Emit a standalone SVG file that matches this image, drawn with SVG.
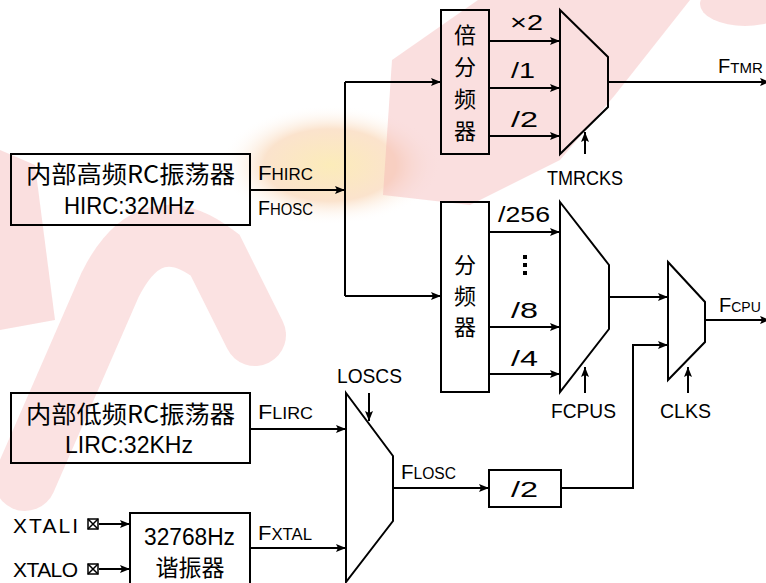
<svg xmlns="http://www.w3.org/2000/svg" width="766" height="583" viewBox="0 0 766 583">
<defs>
<marker id="ah" viewBox="0 0 10 8" markerWidth="10" markerHeight="8" refX="10" refY="4" orient="auto" markerUnits="userSpaceOnUse">
<path d="M0,0 L10,4 L0,8 L2,4 z" fill="#000"/>
</marker>
<radialGradient id="wy" cx="0.5" cy="0.5" r="0.5">
<stop offset="0" stop-color="#fbe7a8"/>
<stop offset="0.6" stop-color="#fadcc0"/>
<stop offset="1" stop-color="#fff" stop-opacity="0"/>
</radialGradient>
<style>
.ln{stroke:#000;stroke-width:2;fill:none}
.ar{marker-end:url(#ah)}
.bx{fill:none;stroke:#000;stroke-width:2}
.mx{fill:none;stroke:#000;stroke-width:2;stroke-linejoin:miter}
.t{font-family:'Liberation Sans',Arial,sans-serif;fill:#000}
.c{font-family:'Noto Sans CJK SC','Noto Sans CJK JP',sans-serif;fill:#000}
.v{writing-mode:vertical-rl}
.wm{fill:#f4b3b3;opacity:0.42}
</style>
</defs>
<rect width="766" height="583" fill="#fff"/>
<g id="watermark">
<ellipse cx="330" cy="165" rx="110" ry="60" fill="url(#wy)" opacity="0.8"/>
<polygon class="wm" points="392,60 478,0 690,0 615,95 560,160 470,205 383,195"/>
<ellipse class="wm" cx="745" cy="4" rx="45" ry="22"/>
<path d="M25,480 L110,285 Q150,205 215,255 L255,335" fill="none" stroke="#f4b3b3" stroke-width="62" stroke-linecap="round" opacity="0.38"/>
<polygon class="wm" points="0,150 35,165 55,320 0,330"/>
</g>
<g id="connectors">
<path class="ln ar" d="M250,190 H345"/>
<path class="ln" d="M345,82 V296"/>
<path class="ln ar" d="M345,82 H441"/>
<path class="ln ar" d="M345,296 H441"/>
<path class="ln ar" d="M489,41 H560"/>
<path class="ln ar" d="M489,88 H560"/>
<path class="ln ar" d="M489,136 H560"/>
<path class="ln ar" d="M608,82 H770"/>
<path class="ln ar" d="M585,154 V132"/>
<path class="ln ar" d="M489,232 H560"/>
<path class="ln ar" d="M489,327 H560"/>
<path class="ln ar" d="M489,374 H560"/>
<path class="ln ar" d="M609,297 H668"/>
<path class="ln ar" d="M585,393 V367"/>
<path class="ln ar" d="M688,393 V367"/>
<path class="ln ar" d="M705,320 H770"/>
<path class="ln ar" d="M250,429 H346"/>
<path class="ln ar" d="M250,548 H346"/>
<path class="ln ar" d="M369,393 V421"/>
<path class="ln ar" d="M393,488 H489"/>
<path class="ln ar" d="M561,488 H633 V345 H668"/>
<path class="ln ar" d="M99,524 H130"/>
<path class="ln ar" d="M99,569 H130"/>
</g>
<g id="hirc">
<rect class="bx" x="11" y="154" width="239" height="71"/>
<text class="c" x="26" y="183" font-size="24" textLength="209" lengthAdjust="spacingAndGlyphs">内部高频RC振荡器</text>
<text class="t" x="64" y="214" font-size="24" textLength="131" lengthAdjust="spacingAndGlyphs">HIRC:32MHz</text>
</g>
<g id="label-fhirc"><text class="t" x="258" y="180" textLength="55" lengthAdjust="spacingAndGlyphs"><tspan font-size="21">F</tspan><tspan font-size="16">HIRC</tspan></text></g>
<g id="label-fhosc"><text class="t" x="258" y="215" textLength="55" lengthAdjust="spacingAndGlyphs"><tspan font-size="21">F</tspan><tspan font-size="16">HOSC</tspan></text></g>
<g id="mul-div">
<rect class="bx" x="441" y="10" width="48" height="144"/>
<text class="c v" x="465" y="24" font-size="22" letter-spacing="10">倍分频器</text>
<text class="t" x="510" y="30" font-size="22" textLength="33" lengthAdjust="spacingAndGlyphs">×2</text>
<text class="t" x="511" y="78" font-size="22" textLength="24" lengthAdjust="spacingAndGlyphs">/1</text>
<text class="t" x="511" y="127" font-size="22" textLength="27" lengthAdjust="spacingAndGlyphs">/2</text>
</g>
<g id="mux-tmr">
<polygon class="mx" points="560,10 608,57 608,107 560,154"/>
<text class="t" x="547" y="185" font-size="21" textLength="76" lengthAdjust="spacingAndGlyphs">TMRCKS</text>
<text class="t" x="718" y="73"><tspan font-size="20">F</tspan><tspan font-size="15">TMR</tspan></text>
</g>
<g id="div">
<rect class="bx" x="441" y="202" width="48" height="190"/>
<text class="c v" x="465" y="254" font-size="22" letter-spacing="9">分频器</text>
<text class="t" x="498" y="222" font-size="22" textLength="52" lengthAdjust="spacingAndGlyphs">/256</text>
<rect x="523" y="255" width="4" height="4" fill="#000"/>
<rect x="523" y="263" width="4" height="4" fill="#000"/>
<rect x="523" y="271" width="4" height="4" fill="#000"/>
<text class="t" x="511" y="318" font-size="22" textLength="27" lengthAdjust="spacingAndGlyphs">/8</text>
<text class="t" x="511" y="366" font-size="22" textLength="27" lengthAdjust="spacingAndGlyphs">/4</text>
</g>
<g id="mux-cpu">
<polygon class="mx" points="560,202 609,265 609,329 560,392"/>
<text class="t" x="551" y="418" font-size="21" textLength="65" lengthAdjust="spacingAndGlyphs">FCPUS</text>
</g>
<g id="mux-clks">
<polygon class="mx" points="668,262 705,302 705,342 668,380"/>
<text class="t" x="660" y="418" font-size="21" textLength="51" lengthAdjust="spacingAndGlyphs">CLKS</text>
<text class="t" x="719" y="312"><tspan font-size="20">F</tspan><tspan font-size="14">CPU</tspan></text>
</g>
<g id="lirc">
<rect class="bx" x="11" y="393" width="239" height="70"/>
<text class="c" x="26" y="423" font-size="24" textLength="209" lengthAdjust="spacingAndGlyphs">内部低频RC振荡器</text>
<text class="t" x="65" y="453" font-size="24" textLength="128" lengthAdjust="spacingAndGlyphs">LIRC:32KHz</text>
</g>
<g id="label-flirc"><text class="t" x="258" y="419" textLength="55" lengthAdjust="spacingAndGlyphs"><tspan font-size="21">F</tspan><tspan font-size="16">LIRC</tspan></text></g>
<g id="label-fxtal"><text class="t" x="258" y="540" textLength="54" lengthAdjust="spacingAndGlyphs"><tspan font-size="21">F</tspan><tspan font-size="16">XTAL</tspan></text></g>
<g id="xtal">
<rect class="bx" x="130" y="513" width="120" height="75"/>
<text class="t" x="144" y="545" font-size="23" textLength="91" lengthAdjust="spacingAndGlyphs">32768Hz</text>
<text class="c" x="190" y="576" font-size="23" text-anchor="middle">谐振器</text>
</g>
<g id="pin-xtali">
<text class="t" x="13" y="533" font-size="21" textLength="65" lengthAdjust="spacing">XTALI</text>
<rect x="88" y="519" width="10" height="10" fill="none" stroke="#000" stroke-width="1.5"/>
<path d="M88,519 L98,529 M98,519 L88,529" stroke="#000" stroke-width="1.5"/>
</g>
<g id="pin-xtalo">
<text class="t" x="13" y="577" font-size="21" textLength="65" lengthAdjust="spacing">XTALO</text>
<rect x="88" y="564" width="10" height="10" fill="none" stroke="#000" stroke-width="1.5"/>
<path d="M88,564 L98,574 M98,564 L88,574" stroke="#000" stroke-width="1.5"/>
</g>
<g id="mux-losc">
<polygon class="mx" points="346,393 393,456 393,521 346,582"/>
<text class="t" x="337" y="383" font-size="21" textLength="65" lengthAdjust="spacingAndGlyphs">LOSCS</text>
<text class="t" x="401" y="479" textLength="55" lengthAdjust="spacingAndGlyphs"><tspan font-size="21">F</tspan><tspan font-size="16">LOSC</tspan></text>
</g>
<g id="div2">
<rect class="bx" x="489" y="470" width="72" height="37"/>
<text class="t" x="511" y="497" font-size="22" textLength="27" lengthAdjust="spacingAndGlyphs">/2</text>
</g>
</svg>
